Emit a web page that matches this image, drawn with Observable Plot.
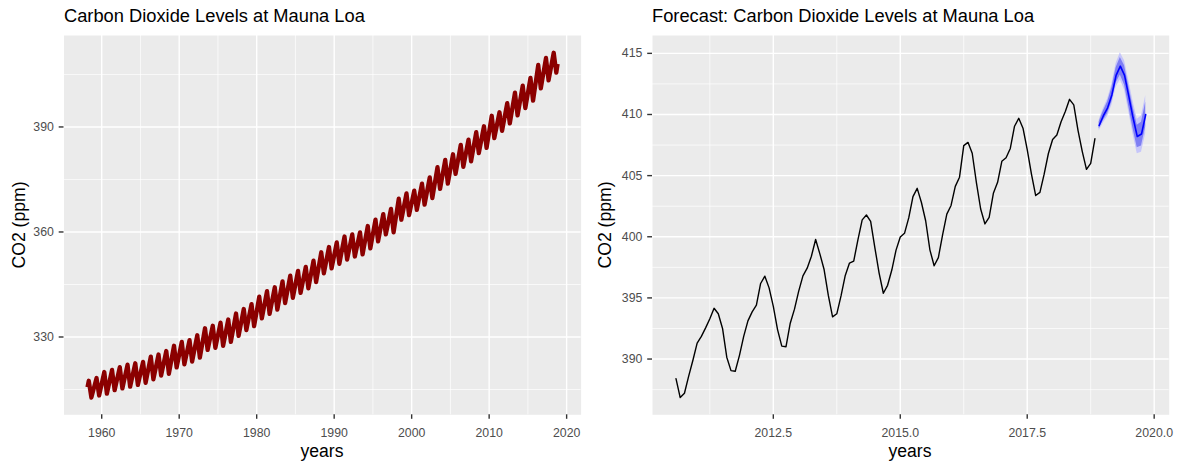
<!DOCTYPE html>
<html><head><meta charset="utf-8">
<script src="https://cdn.jsdelivr.net/npm/d3@7"></script>
<script src="https://cdn.jsdelivr.net/npm/@observablehq/plot@0.6"></script>
<style>
html,body{margin:0;padding:0;background:#fff;}
#root{position:relative;width:1182px;height:464px;overflow:hidden;font-family:"Liberation Sans",Arial,sans-serif;}
.title{position:absolute;top:5px;font-size:18.3px;line-height:21px;color:#000;white-space:nowrap;}
.xlab{position:absolute;top:441px;font-size:17.6px;line-height:20px;color:#000;transform:translateX(-50%);white-space:nowrap;}
.ylab{position:absolute;font-size:17.6px;line-height:20px;color:#000;white-space:nowrap;transform:translate(-50%,-50%) rotate(-90deg);}
.chart{position:absolute;top:30px;}
</style></head><body><div id="root"></div>
<script>
// ---------- Left panel: Mauna Loa monthly CO2, 1958-03 .. 2018-11 ----------
const leftYears = d3.range(1958, 2019);
// yearly seasonal maximum (May) and minimum (September), ppm
const leftPeaks = [317.5,318.3,320.0,320.6,321.4,322.1,322.5,322.9,324.4,325.0,
  326.0,327.5,328.6,329.1,330.5,332.5,333.2,334.1,335.0,336.7,
  338.0,339.4,341.5,343.1,344.2,345.9,347.5,348.9,350.0,351.8,
  354.2,355.7,357.0,358.7,359.3,359.9,361.7,363.5,365.1,366.6,
  369.5,371.0,371.8,373.8,375.6,378.5,380.6,382.2,384.9,386.4,
  388.5,390.2,393.2,394.2,396.8,399.8,401.8,404.0,407.7,409.7,411.2];
const leftTroughs = [312.7,313.3,313.8,314.8,315.3,315.8,316.3,316.9,317.9,319.0,
  319.5,321.3,322.2,323.0,324.1,326.3,326.9,327.5,328.6,330.3,
  332.0,333.1,335.3,336.6,337.8,339.7,341.2,342.6,343.9,345.7,
  348.2,349.6,350.9,352.1,353.0,353.6,355.3,357.3,359.3,359.9,
  363.5,364.8,366.3,367.8,369.7,372.3,373.8,376.6,378.6,380.2,
  382.5,384.0,386.8,388.9,391.0,393.3,395.4,397.5,401.0,403.3,405.5];
const leftFirst = {year: 1958, month: 3, value: 315.7};
const leftLast = {year: 2018, month: 11, value: 408.0};

// ---------- Right panel: observed 2010-08 .. 2018-11 ----------
const obsStart = {year: 2010, month: 8};
const observed = [
  388.4, 386.85, 387.2, 388.6, 389.9,
  391.3, 391.85, 392.55, 393.3, 394.15, 393.7, 392.5, 390.15, 389.05, 389.0, 390.3, 391.85,
  393.12, 393.86, 394.4, 396.18, 396.78, 395.82, 394.3, 392.41, 391.06, 391.01, 392.93, 394.08,
  395.55, 396.8, 397.43, 398.41, 399.78, 398.6, 397.32, 395.2, 393.45, 393.7, 395.16, 396.84,
  397.85, 398.01, 399.77, 401.38, 401.78, 401.25, 399.1, 397.03, 395.38, 396.03, 397.28, 398.91,
  399.98, 400.28, 401.54, 403.28, 403.96, 402.8, 401.31, 398.93, 397.63, 398.29, 400.16, 401.85,
  402.56, 404.12, 404.87, 407.45, 407.72, 406.83, 404.41, 402.27, 401.05, 401.59, 403.55, 404.45,
  406.17, 406.46, 407.22, 409.04, 409.69, 408.88, 407.12, 405.13, 403.37, 403.63, 405.12, 406.81,
  407.96, 408.32, 409.41, 410.24, 411.24, 410.79, 408.71, 406.99, 405.51, 406.0, 408.02];

// ---------- Forecast 2018-12 .. 2019-11 ----------
const fcStart = {year: 2018, month: 12};
const fcMean = [409.1, 409.9, 410.55, 411.6, 413.2, 413.95, 413.2, 411.5, 409.75, 408.2, 408.4, 410.0];
const fcLo80 = [408.81, 409.51, 410.08, 411.04, 412.57, 413.23, 412.42, 410.66, 408.86, 407.27, 407.43, 408.99];
const fcHi80 = [409.39, 410.29, 411.02, 412.16, 413.83, 414.67, 413.98, 412.34, 410.64, 409.13, 409.37, 411.01];
const fcLo95 = [408.65, 409.3, 409.83, 410.75, 412.23, 412.85, 412.0, 410.22, 408.39, 406.78, 406.92, 408.45];
const fcHi95 = [409.55, 410.5, 411.27, 412.45, 414.17, 415.05, 414.4, 412.78, 411.11, 409.62, 409.88, 411.55];

// ---------- tick values ----------
const leftXMajor = [1960, 1970, 1980, 1990, 2000, 2010, 2020];
const leftXMinor = [1965, 1975, 1985, 1995, 2005, 2015];
const leftYMajor = [330, 360, 390];
const leftYMinor = [315, 345, 375, 405];
const rightXMajor = [2012.5, 2015.0, 2017.5, 2020.0];
const rightXMinor = [2011.25, 2013.75, 2016.25, 2018.75];
const rightYMajor = [390, 395, 400, 405, 410, 415];
const rightYMinor = [387.5, 392.5, 397.5, 402.5, 407.5, 412.5];

// ---------- build tables ----------
const tm = (y, m) => y + (m - 1) / 12;
const leftSeries = [{t: tm(leftFirst.year, leftFirst.month), v: leftFirst.value}];
leftYears.forEach((y, i) => {
  leftSeries.push({t: tm(y, 5), v: leftPeaks[i]});
  leftSeries.push({t: tm(y, 9), v: leftTroughs[i]});
});
leftSeries.push({t: tm(leftLast.year, leftLast.month), v: leftLast.value});

const obsSeries = observed.map((v, i) => ({t: tm(obsStart.year, obsStart.month) + i / 12, v}));
const fcSeries = fcMean.map((v, i) => ({
  t: tm(fcStart.year, fcStart.month) + i / 12, v,
  lo80: fcLo80[i], hi80: fcHi80[i], lo95: fcLo95[i], hi95: fcHi95[i]
}));

function expand([a, b]) { const d = (b - a) * 0.05; return [a - d, b + d]; }

const FONT = '"Liberation Sans", Arial, sans-serif';
function panel({width, marginLeft, marginRight, xDomain, yDomain, xMajor, xMinor, yMajor, yMinor, xFormat, marks}) {
  return Plot.plot({
    width, height: 434, marginTop: 5, marginBottom: 49.7, marginLeft, marginRight,
    style: {background: "transparent", fontFamily: FONT, fontSize: "12.3px", color: "#4D4D4D", overflow: "visible"},
    x: {domain: xDomain},
    y: {domain: yDomain},
    marks: [
      Plot.frame({fill: "#EBEBEB", stroke: "none"}),
      Plot.gridX(xMinor, {stroke: "#fff", strokeOpacity: 1, strokeWidth: 0.7}),
      Plot.gridY(yMinor, {stroke: "#fff", strokeOpacity: 1, strokeWidth: 0.7}),
      Plot.gridX(xMajor, {stroke: "#fff", strokeOpacity: 1, strokeWidth: 1.4}),
      Plot.gridY(yMajor, {stroke: "#fff", strokeOpacity: 1, strokeWidth: 1.4}),
      Plot.axisX(xMajor, {tickFormat: xFormat, tickSize: 4.5, tickPadding: 9, stroke: "#333333", strokeWidth: 1.4, fill: "#4D4D4D", fontSize: 12.3, label: null}),
      Plot.axisY(yMajor, {tickSize: 4.8, tickPadding: 5.3, stroke: "#333333", strokeWidth: 1.4, fill: "#4D4D4D", fontSize: 12.3, label: null}),
      ...marks
    ]
  });
}

const left = panel({
  width: 590, marginLeft: 63.5, marginRight: 9.4,
  xDomain: expand(d3.extent(leftSeries, d => d.t)),
  yDomain: expand(d3.extent(leftSeries, d => d.v)),
  xMajor: leftXMajor, xMinor: leftXMinor, yMajor: leftYMajor, yMinor: leftYMinor,
  xFormat: d3.format("d"),
  marks: [
    Plot.line(leftSeries, {x: "t", y: "v", stroke: "#8B0000", strokeWidth: 4.3, strokeLinecap: "butt", strokeLinejoin: "round"})
  ]
});

const allRightY = [...observed, ...fcLo95, ...fcHi95];
const right = panel({
  width: 592, marginLeft: 62, marginRight: 13.3,
  xDomain: expand([obsSeries[0].t, fcSeries[fcSeries.length - 1].t]),
  yDomain: expand(d3.extent(allRightY)),
  xMajor: rightXMajor, xMinor: rightXMinor, yMajor: rightYMajor, yMinor: rightYMinor,
  xFormat: d3.format(".1f"),
  marks: [
    Plot.areaY(fcSeries, {x: "t", y1: "lo95", y2: "hi95", fill: "#C6C6FA"}),
    Plot.areaY(fcSeries, {x: "t", y1: "lo80", y2: "hi80", fill: "#7E7EF3"}),
    Plot.line(obsSeries, {x: "t", y: "v", stroke: "#000", strokeWidth: 1.4}),
    Plot.line(fcSeries, {x: "t", y: "v", stroke: "#0000FF", strokeWidth: 1.6})
  ]
});

const root = document.getElementById("root");
function add(html) { const d = document.createElement("div"); d.innerHTML = html; const el = d.firstChild; root.appendChild(el); return el; }

const lw = add('<div class="chart" style="left:0px"></div>'); lw.appendChild(left);
const rw = add('<div class="chart" style="left:590px"></div>'); rw.appendChild(right);
add('<div class="title" style="left:64px">Carbon Dioxide Levels at Mauna Loa</div>');
add('<div class="title" style="left:652px">Forecast: Carbon Dioxide Levels at Mauna Loa</div>');
add('<div class="xlab" style="left:322px">years</div>');
add('<div class="xlab" style="left:910px">years</div>');
add('<div class="ylab" style="left:19px;top:224.7px">CO2 (ppm)</div>');
add('<div class="ylab" style="left:605px;top:224.7px">CO2 (ppm)</div>');
</script></body></html>
